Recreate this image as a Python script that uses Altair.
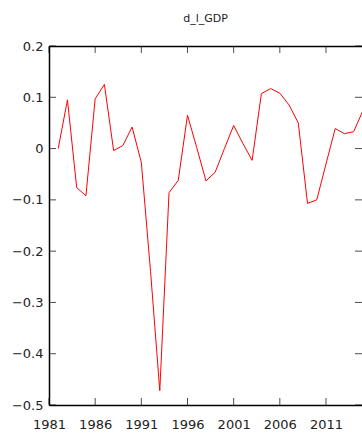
import altair as alt
import pandas as pd

years = list(range(1982, 2016))
values = [0.0, 0.095, -0.076, -0.092, 0.097, 0.125, -0.004, 0.006, 0.042, -0.027,
          -0.24, -0.472, -0.086, -0.062, 0.065, 0.002, -0.063, -0.046, 0.0, 0.045,
          0.01, -0.023, 0.107, 0.117, 0.108, 0.085, 0.05, -0.107, -0.1, -0.03,
          0.039, 0.029, 0.033, 0.074]
x_ticks = [1981, 1986, 1991, 1996, 2001, 2006, 2011]
y_ticks = [-0.5, -0.4, -0.3, -0.2, -0.1, 0, 0.1, 0.2]
title = "d_l_GDP"

W, H = 313, 359
FONT = "DejaVu Sans"

df = pd.DataFrame({"year": years, "value": values})
xt = pd.DataFrame({"year": x_ticks})
yt = pd.DataFrame({"value": y_ticks})

xscale = alt.Scale(domain=[1981, 2014.9], nice=False, zero=False)
yscale = alt.Scale(domain=[-0.5, 0.2], nice=False, zero=False)

yaxis = alt.Axis(values=y_ticks, title=None, ticks=False, labelPadding=6,
                 grid=False, domainColor="#000000", domainWidth=1.5,
                 labelFont=FONT, labelFontSize=13, labelColor="#222222",
                 labelFlush=False,
                 labelExpr="datum.value == 0 ? '0' : format(datum.value, '.1f')")

line = alt.Chart(df).mark_line(color="#ff0000", strokeWidth=1, clip=True).encode(
    x=alt.X("year:Q", scale=xscale,
            axis=alt.Axis(orient="bottom", values=x_ticks, title=None, ticks=False,
                          labelPadding=13, grid=False, domainColor="#000000",
                          domainWidth=1.5, labelFont=FONT, labelFontSize=13,
                          labelColor="#222222", format="d", labelFlush=False)),
    y=alt.Y("value:Q", scale=yscale, axis=yaxis),
)

top_ticks = alt.Chart(xt).mark_tick(color="#000000", size=7, thickness=1, orient="vertical").encode(
    x=alt.X("year:Q", scale=xscale,
            axis=alt.Axis(orient="top", labels=False, ticks=False, title=None, grid=False,
                          domainColor="#000000", domainWidth=1.5)),
    y=alt.value(3.5),
)
bottom_ticks = alt.Chart(xt).mark_tick(color="#000000", size=7, thickness=1, orient="vertical").encode(
    x=alt.X("year:Q", scale=xscale, axis=None),
    y=alt.value(H - 3.5),
)
left_ticks = alt.Chart(yt).mark_tick(color="#000000", size=7, thickness=1, orient="horizontal").encode(
    y=alt.Y("value:Q", scale=yscale, axis=yaxis),
    x=alt.value(3.5),
)
right_ticks = alt.Chart(yt).mark_tick(color="#000000", size=7, thickness=1, orient="horizontal").encode(
    y=alt.Y("value:Q", scale=yscale, axis=yaxis),
    x=alt.value(W - 3.5),
)

chart = alt.layer(line, top_ticks, bottom_ticks, left_ticks, right_ticks).resolve_axis(
    x="independent"
).properties(
    width=W, height=H,
    autosize=alt.AutoSizeParams(type="none"),
    padding={"left": 49, "top": 46, "right": 0, "bottom": 31},
    title=alt.TitleParams(title, font=FONT, fontSize=11, fontWeight="normal",
                          color="#222222", anchor="middle", offset=16),
).configure_view(stroke=None).configure(background="#ffffff")

chart.save("out.html", embed_options={"renderer": "svg", "actions": False})
